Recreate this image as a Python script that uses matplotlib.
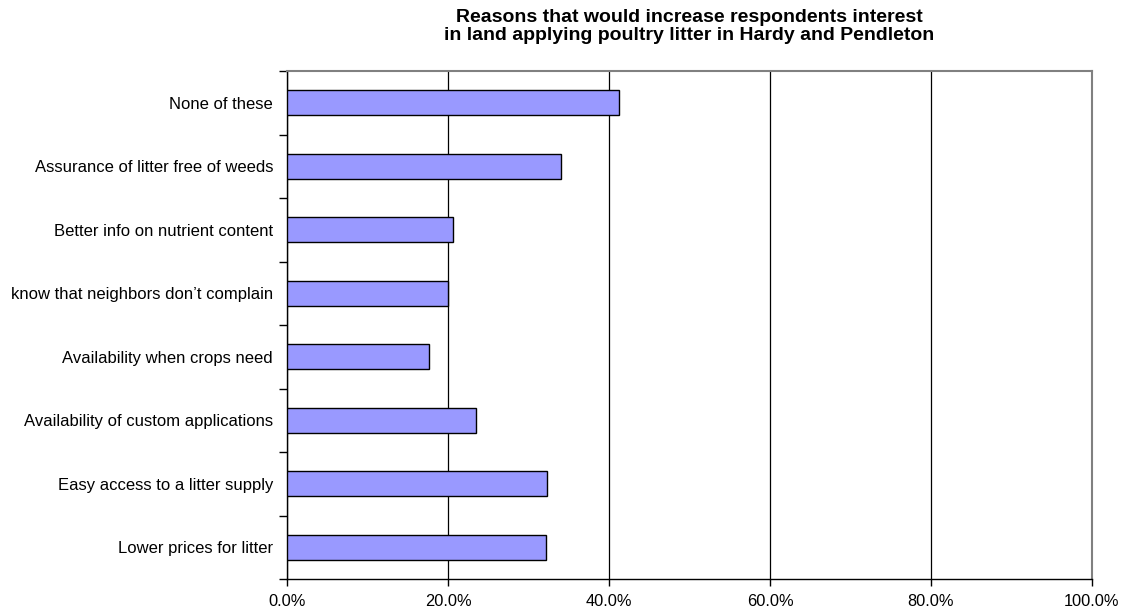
import matplotlib
matplotlib.use("Agg")
import matplotlib.pyplot as plt
import numpy as np
from matplotlib.ticker import FixedLocator, FuncFormatter

plt.rcParams["font.family"] = ["Liberation Sans", "DejaVu Sans"]

# survey answers, bottom to top
reasons = [
    "Lower prices for litter",
    "Easy access to a litter supply",
    "Availability of custom applications",
    "Availability when crops need",
    "know that neighbors don\u2019t complain",
    "Better info on nutrient content",
    "Assurance of litter free of weeds",
    "None of these",
]
share = [32.2, 32.3, 23.5, 17.6, 20.0, 20.6, 34.1, 41.2]
x_ticks = [0, 20, 40, 60, 80, 100]

fig = plt.figure(figsize=(11.33, 6.10), dpi=100)
ax = fig.add_axes([0.2533, 0.0508, 0.7105, 0.8328])

y = np.arange(len(reasons))
ax.barh(y, share, height=0.39, color="#9999FF", edgecolor="black",
        linewidth=1.0, zorder=3)

ax.set_xlim(0, 100)
ax.set_ylim(-0.5, len(reasons) - 0.5)
ax.xaxis.set_major_locator(FixedLocator(x_ticks))
ax.xaxis.set_major_formatter(FuncFormatter(lambda v, _: f"{v:.1f}%"))
ax.grid(axis="x", color="black", linewidth=0.9, zorder=1)

ax.set_yticks(y)
ax.set_yticklabels(reasons)
ax.yaxis.set_minor_locator(FixedLocator(np.arange(-0.5, len(reasons), 1.0)))
ax.tick_params(axis="y", which="major", length=0, pad=10, labelsize=12)
ax.tick_params(axis="y", which="minor", length=6, width=1, direction="out")
ax.tick_params(axis="x", length=5, width=1, direction="out", pad=6,
               labelsize=11.8)

for side in ("top", "right"):
    ax.spines[side].set_color("#808080")
    ax.spines[side].set_linewidth(1.5)
for side in ("left", "bottom"):
    ax.spines[side].set_color("black")
    ax.spines[side].set_linewidth(1.0)

fig.text(0.6086, 0.957,
         "Reasons that would increase respondents interest\n"
         "in land applying poultry litter in Hardy and Pendleton",
         ha="center", va="center", fontsize=14, fontweight="bold",
         linespacing=1.08)

fig.savefig("out.png", dpi=100)
